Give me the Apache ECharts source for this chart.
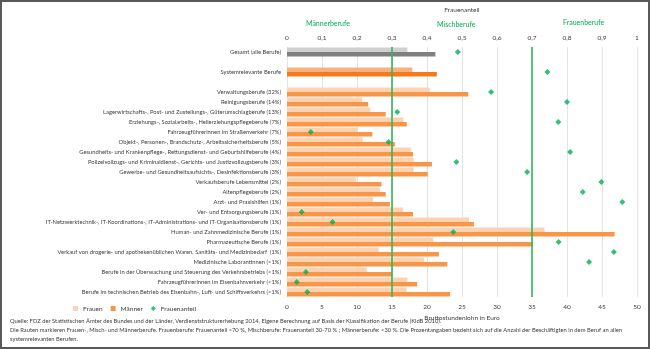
<!DOCTYPE html>
<html>
<head>
<meta charset="utf-8">
<script src="https://cdn.jsdelivr.net/npm/echarts@6/dist/echarts.min.js"></script>
<style>
html,body{margin:0;padding:0;background:#fff;}
#wrap{width:650px;height:349px;box-sizing:border-box;border:2px solid #595959;position:relative;overflow:hidden;}
#chart{position:absolute;left:-2px;top:-2px;width:650px;height:349px;}
</style>
</head>
<body>
<div id="wrap"><div id="chart"></div></div>
<script>
const categories = [
  'Gesamt (alle Berufe)', '', 'Systemrelevante Berufe', ' ',
  'Verwaltungsberufe (32%)',
  'Reinigungsberufe (14%)',
  'Lagerwirtschafts-, Post- und Zustellungs-, Güterumschlagberufe (13%)',
  'Erziehungs-, Sozialarbeits-, Heilerziehungspflegeberufe (7%)',
  'Fahrzeugführerinnen im Straßenverkehr (7%)',
  'Objekt-, Personen-, Brandschutz-, Arbeitssicherheitsberufe (5%)',
  'Gesundheits- und Krankenpflege-, Rettungsdienst- und Geburtshilfeberufe (4%)',
  'Polizeivollzugs- und Kriminaldienst-, Gerichts- und Justizvollzugsberufe (3%)',
  'Gewerbe- und Gesundheitsaufsichts-, Desinfektionsberufe (3%)',
  'Verkaufsberufe Lebensmittel (2%)',
  'Altenpflegeberufe (2%)',
  'Arzt- und Praxishilfen (1%)',
  'Ver- und Entsorgungsberufe (1%)',
  'IT-Netzwerktechnik-, IT-Koordinations-, IT-Administrations- und IT-Organisationsberufe (1%)',
  'Human- und Zahnmedizinische Berufe (1%)',
  'Pharmazeutische Berufe (1%)',
  'Verkauf von drogerie- und apothekenüblichen Waren, Sanitäts- und Medizinbedarf  (1%)',
  'Medizinische Laborantinnen (<1%)',
  'Berufe in der Überwachung und Steuerung des Verkehrsbetriebs (<1%)',
  'Fahrzeugführerinnen im Eisenbahnverkehr (<1%)',
  'Berufe im technischen Betrieb des Eisenbahn-, Luft- und Schiffsverkehrs (<1%)'
];
const frauenLohn = [17.2, null, 17.9, null, 20.4, 10.7, 11.9, 16.6, 10.1, 10.8, 17.7, 18.1, 18.1, 9.9, 13.3, 12.3, 16.6, 26.0, 36.8, 20.9, 13.1, 19.6, 11.4, 17.2, 17.1];
const maennerLohn = [21.2, null, 21.4, null, 25.9, 11.6, 14.1, 17.1, 12.2, 15.4, 18.0, 20.7, 20.1, 13.5, 14.1, 14.7, 18.0, 26.7, 46.8, 35.1, 21.7, 22.9, 15.0, 18.6, 23.3];
const frauenanteil = [0.488, null, 0.744, null, 0.583, 0.80, 0.315, 0.775, 0.068, 0.29, 0.809, 0.484, 0.686, 0.898, 0.845, 0.958, 0.042, 0.13, 0.475, 0.776, 0.934, 0.863, 0.054, 0.028, 0.058];
const lohnTicks = [0, 5, 10, 15, 20, 25, 30, 35, 40, 45, 50];
const anteilTicks = ['0', '0,1', '0,2', '0,3', '0,4', '0,5', '0,6', '0,7', '0,8', '0,9', '1'];
const grenzen = [0.3, 0.7];

const FONT = 'Lato';
const cF = '#fbd3b2', cM = '#f79646';
const special = {0: ['#d0d0d0', '#7f7f7f'], 2: ['#f9b27e', '#f57a1c']};

function barData(arr, idx) {
  return arr.map((v, i) => {
    if (v === null) return '-';
    if (special[i]) return {value: v, itemStyle: {color: special[i][idx]}};
    return v;
  });
}
const scatterData = [];
frauenanteil.forEach((v, i) => { if (v !== null) scatterData.push([v, categories[i]]); });

const chart = echarts.init(document.getElementById('chart'), null, {renderer: 'canvas'});
chart.setOption({
  animation: false,
  textStyle: {fontFamily: FONT},
  grid: {left: 287, right: 13, top: 47, bottom: 52, containLabel: false},
  xAxis: [
    {
      type: 'value', position: 'bottom', min: 0, max: 50, interval: 5,
      name: 'Bruttostundenlohn in Euro', nameLocation: 'middle', nameGap: 17,
      nameTextStyle: {fontSize: 6.5, color: '#404040', fontFamily: FONT},
      axisLine: {show: false}, axisTick: {show: false},
      axisLabel: {fontSize: 6.5, color: '#404040', margin: 6, fontFamily: FONT,
        formatter: v => lohnTicks.indexOf(v) >= 0 ? String(v) : ''},
      splitLine: {show: true, lineStyle: {color: '#e3e3e3', width: 1}}
    },
    {
      type: 'value', position: 'top', min: 0, max: 1, interval: 0.1,
      name: 'Frauenanteil', nameLocation: 'middle', nameGap: 34,
      nameTextStyle: {fontSize: 6.5, color: '#404040', fontFamily: FONT},
      axisLine: {show: false}, axisTick: {show: false},
      axisLabel: {fontSize: 6.5, color: '#404040', margin: 6, fontFamily: FONT,
        formatter: v => anteilTicks[Math.round(v * 10)]},
      splitLine: {show: false}
    }
  ],
  yAxis: {
    type: 'category', data: categories, inverse: true,
    axisLine: {show: false}, axisTick: {show: false},
    axisLabel: {fontSize: 5.8, color: '#404040', margin: 6, interval: 0, fontFamily: FONT},
    splitLine: {show: false}
  },
  legend: {
    left: 68, top: 300, itemWidth: 5, itemHeight: 5, itemGap: 8,
    textStyle: {fontSize: 6.5, color: '#404040', fontFamily: FONT},
    data: [
      {name: 'Frauen', icon: 'rect'},
      {name: 'Männer', icon: 'rect'},
      {name: 'Frauenanteil', icon: 'diamond'}
    ]
  },
  series: [
    {
      name: 'Frauen', type: 'bar', xAxisIndex: 0, data: barData(frauenLohn, 0),
      barWidth: 4.5, barGap: '0%', itemStyle: {color: cF}
    },
    {
      name: 'Männer', type: 'bar', xAxisIndex: 0, data: barData(maennerLohn, 1),
      barWidth: 4.5, barGap: '0%', itemStyle: {color: cM}
    },
    {
      name: 'Frauenanteil', type: 'scatter', xAxisIndex: 1, data: scatterData,
      symbol: 'diamond', symbolSize: 6, itemStyle: {color: '#00b050'}, z: 5,
      markLine: {
        silent: true, symbol: ['none', 'none'], label: {show: false},
        lineStyle: {color: '#2fb85a', width: 1.6, type: 'solid'},
        data: grenzen.map(g => ({xAxis: g}))
      }
    }
  ],
  graphic: [
    {type: 'text', left: 306, top: 20, style: {text: 'Männerberufe', fontSize: 7, fill: '#00b050', fontFamily: FONT}},
    {type: 'text', left: 437, top: 21, style: {text: 'Mischberufe', fontSize: 7, fill: '#00b050', fontFamily: FONT}},
    {type: 'text', left: 563, top: 19, style: {text: 'Frauenberufe', fontSize: 7, fill: '#00b050', fontFamily: FONT}},
    {type: 'text', left: 10, top: 318, style: {text: 'Quelle: FDZ der Statistischen Ämter des Bundes und der Länder, Verdienststrukturerhebung 2014, Eigene Berechnung auf Basis der Klassifikation der Berufe (KldB 2010).', fontSize: 5.8, fill: '#404040', fontFamily: FONT}},
    {type: 'text', left: 10, top: 327, style: {text: 'Die Rauten markieren Frauen-, Misch- und Männerberufe. Frauenberufe: Frauenanteil >70 %, Mischberufe: Frauenanteil 30-70 % ; Männerberufe: <30 %. Die Prozentangaben bezieht sich auf die Anzahl der Beschäftigten in dem Beruf an allen', fontSize: 5.8, fill: '#404040', fontFamily: FONT}},
    {type: 'text', left: 10, top: 336, style: {text: 'systemrelevanten Berufen.', fontSize: 5.8, fill: '#404040', fontFamily: FONT}}
  ]
});
</script>
</body>
</html>
